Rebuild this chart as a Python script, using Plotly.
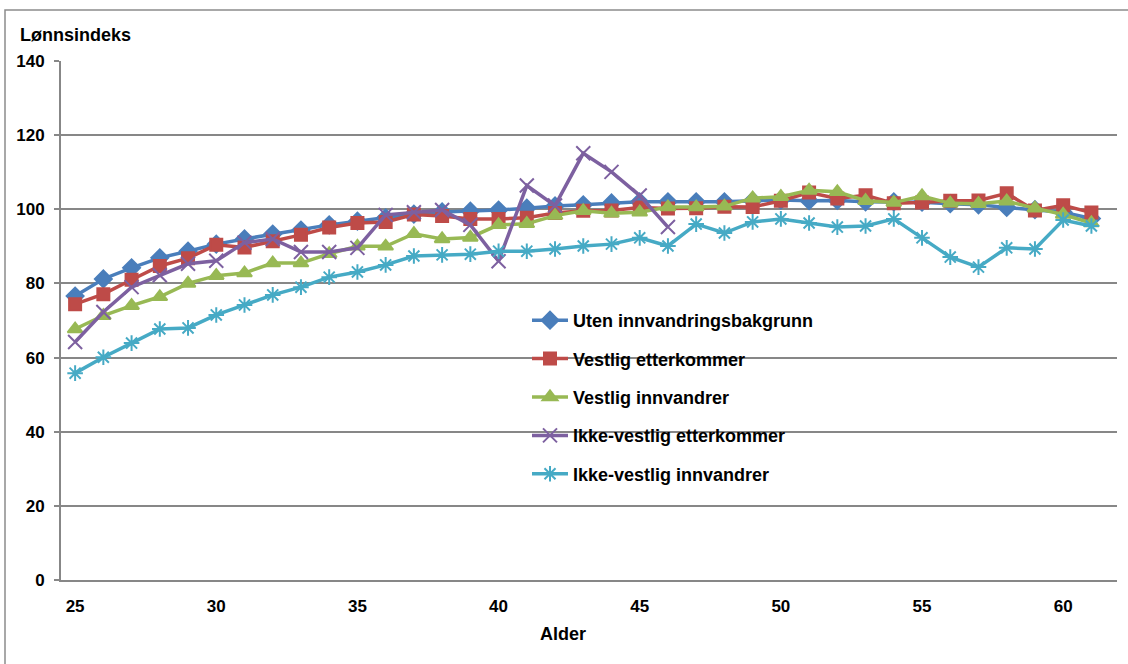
import plotly.graph_objects as go

ages = list(range(25, 62))

uten = [76.6, 81.2, 84.2, 86.9, 88.7, 90.6, 92.0, 93.3, 94.4, 95.8, 96.8, 97.7, 98.7, 99.3, 99.5,
        99.8, 100.3, 100.9, 101.2, 101.7, 102.0, 102.0, 102.0, 102.0, 102.3, 102.5, 102.3, 102.4,
        102.0, 102.0, 101.9, 101.5, 101.2, 100.5, 99.9, 99.2, 97.5]
vest_etter = [74.4, 77.1, 81.0, 84.7, 86.8, 90.4, 89.7, 91.4, 93.1, 95.1, 96.3, 96.6, 98.6, 98.2,
              97.4, 97.4, 97.7, 99.0, 99.6, 99.7, 100.5, 100.2, 100.3, 100.7, 100.6, 102.3, 104.5,
              102.9, 103.8, 101.6, 101.8, 102.3, 102.4, 104.3, 99.7, 101.1, 99.1]
vest_innv = [67.7, 71.3, 74.0, 76.4, 80.0, 82.1, 82.8, 85.5, 85.5, 88.0, 90.0, 90.0, 93.4, 92.0,
             92.4, 95.8, 96.1, 98.3, 99.6, 98.9, 99.2, 100.6, 100.6, 100.8, 103.0, 103.4, 105.1,
             104.7, 102.3, 101.8, 103.6, 101.6, 101.5, 102.2, 100.3, 98.6, 96.3]
ikke_etter = [64.2, 72.3, 79.0, 82.2, 85.3, 86.1, 91.0, 92.0, 88.5, 88.5, 89.6, 98.5, 99.2, 99.8,
              95.8, 86.0, 106.4, 101.0, 115.1, 110.1, 103.7, 95.2]
ikke_innv = [55.8, 60.1, 63.9, 67.7, 68.0, 71.5, 74.2, 76.9, 79.0, 81.7, 83.1, 85.0, 87.4, 87.7,
             87.9, 88.7, 88.7, 89.3, 90.1, 90.6, 92.3, 90.1, 96.0, 93.6, 96.6, 97.4, 96.3, 95.2,
             95.5, 97.4, 92.3, 87.1, 84.4, 89.6, 89.3, 97.1, 95.5]

names = ["Uten innvandringsbakgrunn", "Vestlig etterkommer", "Vestlig innvandrer",
         "Ikke-vestlig etterkommer", "Ikke-vestlig innvandrer"]
series = [uten, vest_etter, vest_innv, ikke_etter, ikke_innv]
colors = ["#4A7EBB", "#BE4B48", "#98B954", "#7D60A0", "#46AAC5"]
symbols = ["diamond", "square", "triangle-up", "x-thin-open", "asterisk-open"]
sizes = [13, 12, 13, 14, 13]

x_ticks = [25, 30, 35, 40, 45, 50, 55, 60]
y_ticks = [0, 20, 40, 60, 80, 100, 120, 140]

FONT = "Liberation Sans, Arial, sans-serif"
GRID = "#878787"

fig = go.Figure()
for i, (nm, ys, c, s, sz) in enumerate(zip(names, series, colors, symbols, sizes)):
    fig.add_trace(go.Scatter(
        x=ages[:len(ys)], y=ys, name=nm, mode="lines+markers",
        line=dict(color=c, width=3.5),
        marker=dict(symbol=s, size=sz, color=c, line=dict(color=c, width=2)),
        legendgroup=f"g{i}",
    ))

W, H = 1128, 664
L, R, T, B = 61, 1117, 61, 580
pw, ph = R - L, B - T
step = 28.23  # px per year as measured

def px(x):
    return (x - L) / pw

def py(y):
    return (B - y) / ph

fig.update_layout(
    width=W, height=H,
    margin=dict(l=L, r=W - R, t=T, b=H - B),
    paper_bgcolor="white", plot_bgcolor="white",
    font=dict(family=FONT, size=17, color="black"),
    showlegend=True,
    legend=dict(
        x=px(527), y=py(302), xanchor="left", yanchor="top",
        bgcolor="rgba(0,0,0,0)", borderwidth=0,
        font=dict(family=FONT, size=18, color="black", weight="bold"),
        traceorder="grouped", tracegroupgap=12, itemwidth=36,
    ),
    xaxis=dict(
        range=[24.5, 24.5 + pw / step], tickvals=x_ticks, showgrid=False,
        showline=True, linecolor=GRID, linewidth=2,
        ticks="", ticklabelstandoff=10,
        tickfont=dict(family=FONT, size=17, color="black", weight="bold"),
        zeroline=False,
    ),
    yaxis=dict(
        range=[0, 140], tickvals=y_ticks, showgrid=True, gridcolor=GRID, gridwidth=2,
        showline=True, linecolor=GRID, linewidth=2,
        ticks="outside", ticklen=5, tickcolor=GRID, tickwidth=1.5, ticklabelstandoff=6,
        tickfont=dict(family=FONT, size=17, color="black", weight="bold"),
        zeroline=False,
    ),
    shapes=[
        dict(type="rect", xref="paper", yref="paper",
             x0=px(437), x1=px(920), y0=py(490), y1=py(296),
             fillcolor="white", line=dict(width=0), layer="between"),
        dict(type="rect", xref="paper", yref="paper",
             x0=px(5), x1=px(1140), y0=py(676), y1=py(10),
             fillcolor="rgba(0,0,0,0)", line=dict(color="#8c8c8c", width=1.5), layer="above"),
    ],
    annotations=[
        dict(text="<b>Lønnsindeks</b>", xref="paper", yref="paper",
             x=px(18), y=py(35), xanchor="left", yanchor="middle", showarrow=False,
             font=dict(family=FONT, size=18, color="black")),
        dict(text="<b>Alder</b>", xref="paper", yref="paper",
             x=px(563), y=py(634), xanchor="center", yanchor="middle", showarrow=False,
             font=dict(family=FONT, size=18, color="black")),
    ],
)

fig.write_html("out.html", config={"displayModeBar": False},
               post_script="document.body.style.margin='0';document.body.style.overflow='hidden';")
